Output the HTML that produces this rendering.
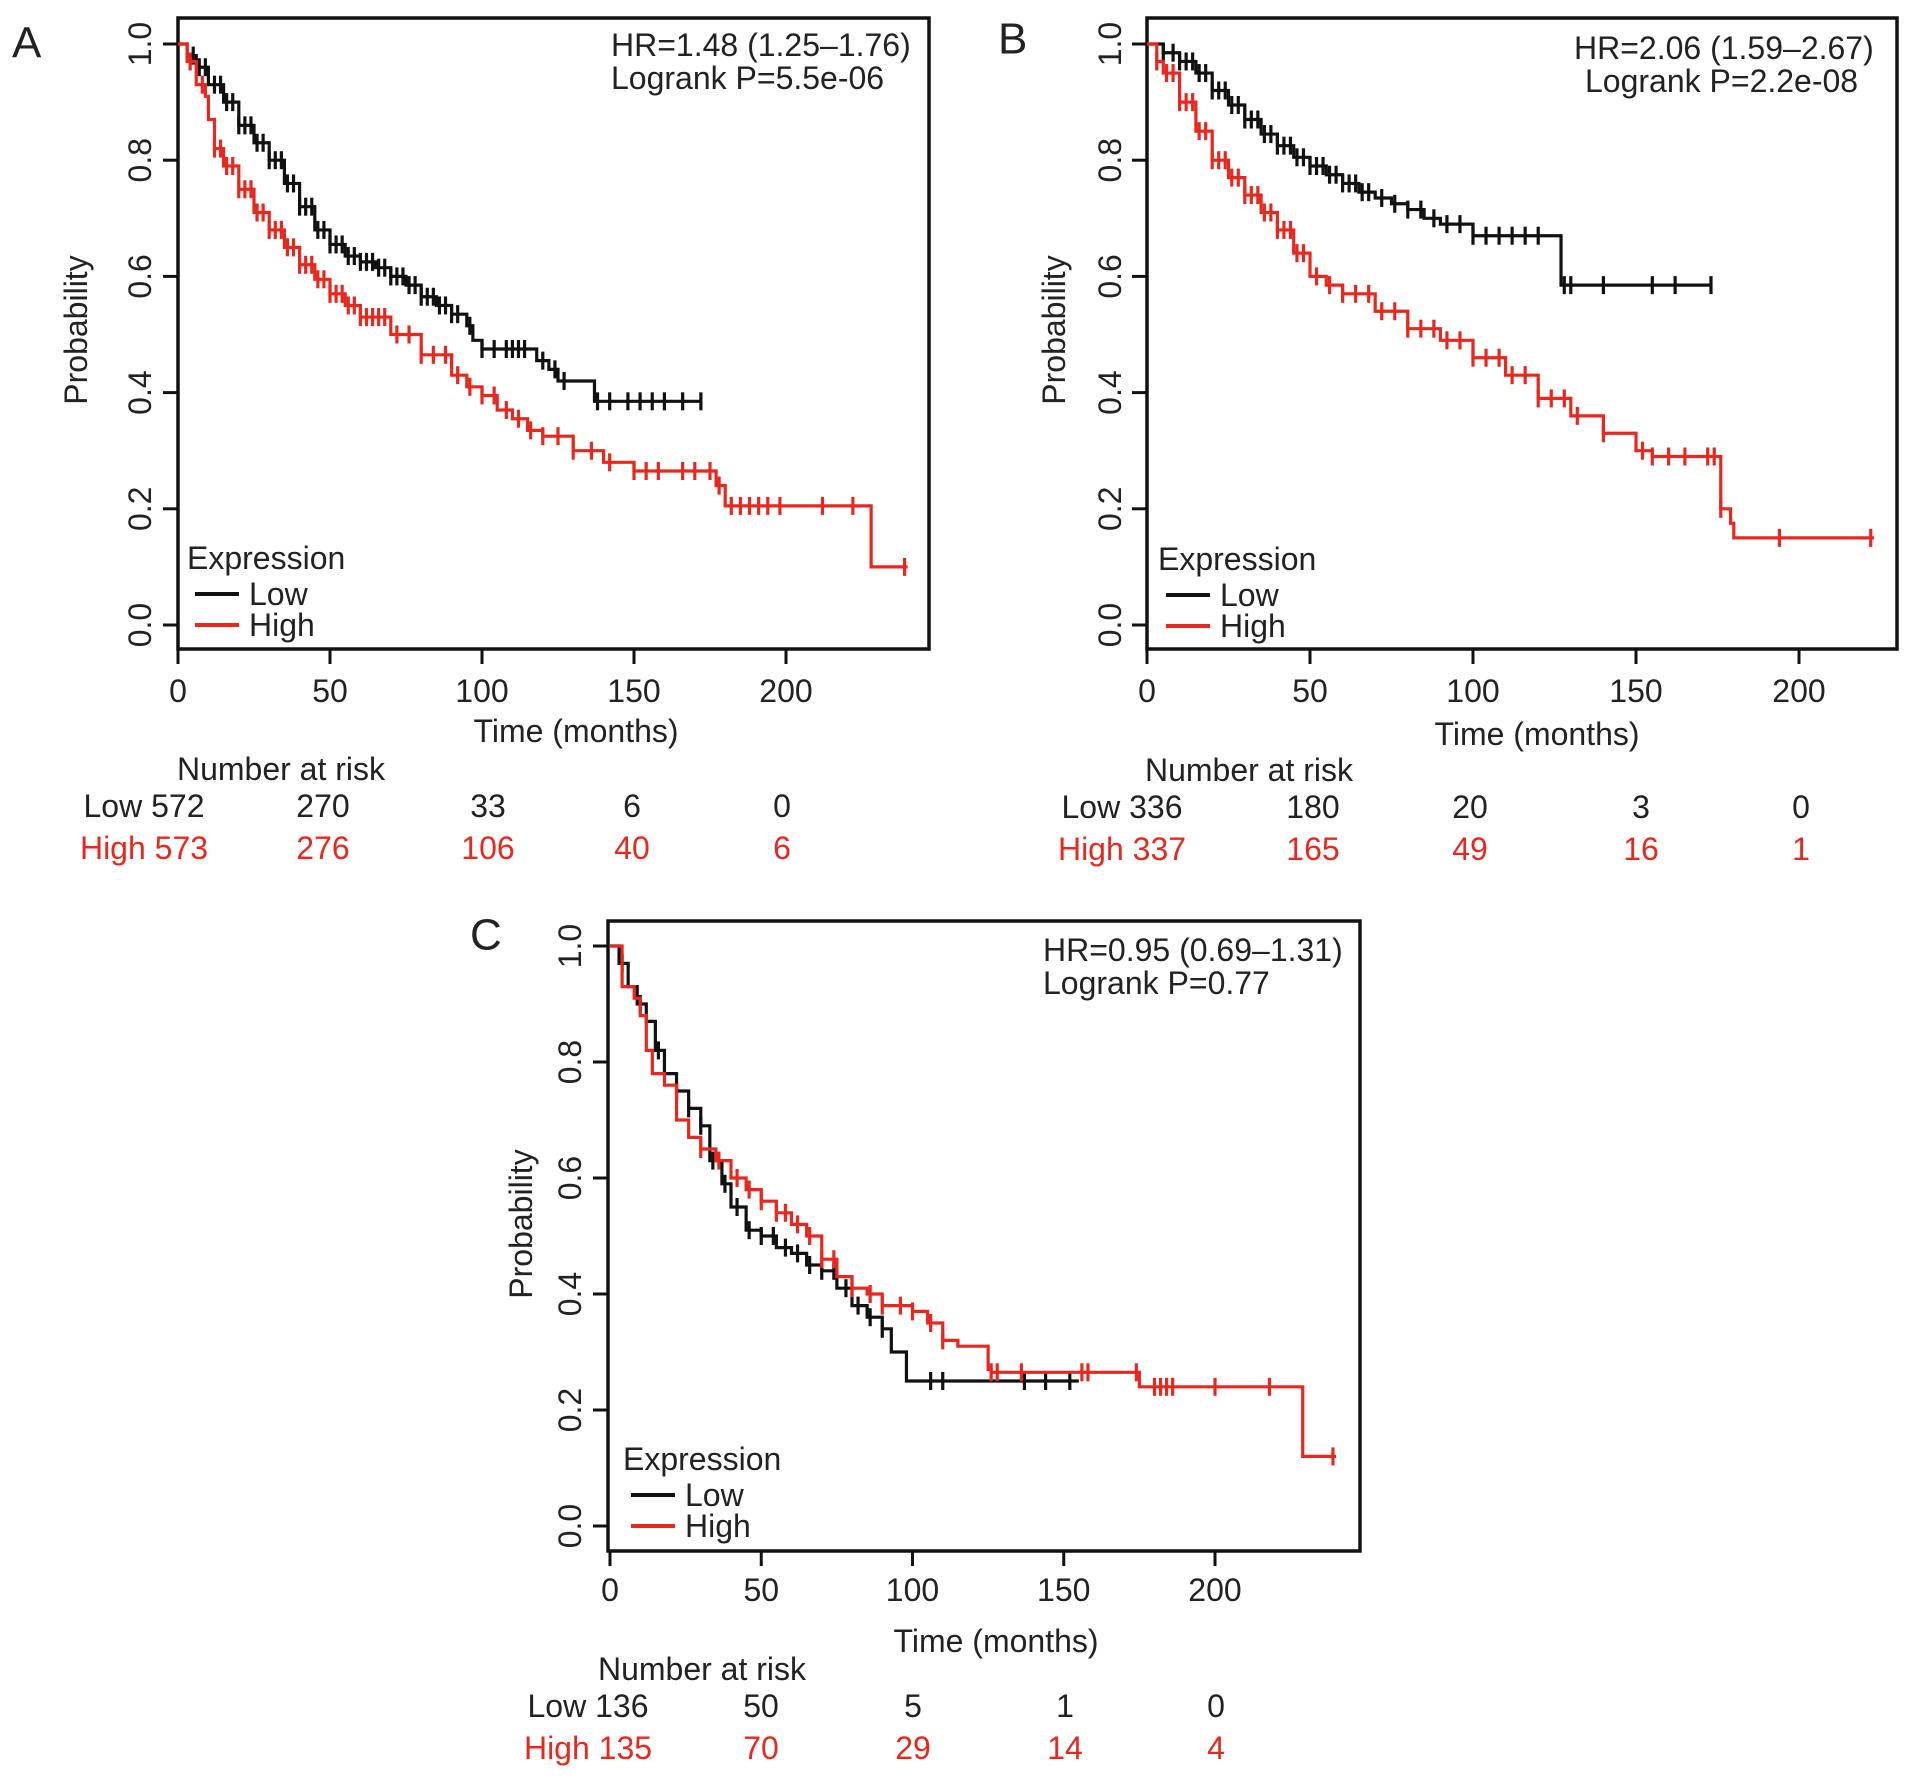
<!DOCTYPE html>
<html><head><meta charset="utf-8"><style>
html,body{margin:0;padding:0;background:#fff}
svg text{font-family:"Liberation Sans",sans-serif;font-size:32px;fill:#222}
</style></head><body>
<svg id="fig" width="1913" height="1780" viewBox="0 0 1913 1780" xmlns="http://www.w3.org/2000/svg"></svg>
<script>
// Panel A data
const aLowT=[0,3,6,10,15,20,25,30,35,40,45,50,55,60,65,70,75,80,85,90,95,97,100,115,118,122,125,128,137,172];
const aLowS=[1,0.98,0.96,0.93,0.9,0.86,0.83,0.8,0.76,0.72,0.68,0.655,0.635,0.625,0.615,0.6,0.585,0.565,0.55,0.535,0.515,0.49,0.475,0.475,0.455,0.44,0.42,0.42,0.385,0.385];
const aLowC=[5,7,9,12,14,16,18,20,22,24,26,28,30,32,34,36,38,40,42,44,46,48,50,52,54,56,58,60,62,64,66,68,70,72,74,76,78,80,82,84,86,88,90,92,96,100,104,108,110,112,114,120,124,127,138,142,148,152,156,160,166,172];
const aHighT=[0,3,6,9,10,12,15,20,25,30,35,40,45,50,55,60,70,80,90,95,100,105,110,115,120,130,140,150,175,177,180,228,240];
const aHighS=[1,0.97,0.93,0.91,0.87,0.82,0.79,0.75,0.71,0.68,0.65,0.62,0.595,0.57,0.55,0.53,0.5,0.465,0.43,0.41,0.395,0.37,0.355,0.335,0.325,0.3,0.28,0.265,0.265,0.24,0.205,0.1,0.1];
const aHighC=[4,8,12,14,16,18,20,22,24,26,28,30,32,34,36,38,40,42,44,46,48,50,52,54,56,58,60,62,64,66,68,72,76,80,84,88,92,96,100,104,108,112,116,120,125,130,136,142,150,154,158,166,170,175,178,182,185,188,191,194,198,212,222,239];
// Panel B data
const bLowT=[0,5,10,15,20,25,30,35,40,45,50,55,60,65,70,75,80,85,90,100,126,127,173];
const bLowS=[1,0.985,0.97,0.95,0.92,0.895,0.87,0.845,0.825,0.805,0.79,0.775,0.76,0.745,0.735,0.725,0.715,0.7,0.69,0.67,0.67,0.585,0.585];
const bLowC=[5,8,10,12,14,16,18,20,22,24,26,28,30,32,34,36,38,40,42,44,46,48,50,52,54,56,58,60,62,64,66,68,72,76,80,84,88,92,96,100,104,108,112,116,120,128,130,140,155,162,173];
const bHighT=[0,3,5,10,15,20,25,30,35,40,45,50,55,60,70,80,90,100,110,120,130,140,150,155,175,176,179,180,223];
const bHighS=[1,0.97,0.95,0.9,0.85,0.8,0.77,0.74,0.71,0.68,0.64,0.6,0.585,0.57,0.54,0.51,0.49,0.46,0.43,0.39,0.36,0.33,0.3,0.29,0.29,0.2,0.175,0.15,0.15];
const bHighC=[3,6,8,10,12,14,16,18,20,22,24,26,28,30,32,34,36,38,40,42,44,46,48,52,56,60,64,68,72,76,80,84,88,92,96,100,104,108,112,116,120,124,128,132,140,152,155,160,165,172,174,176,194,222];
// Panel C data
const cLowT=[0,3,6,9,12,15,18,22,26,30,33,37,40,45,50,55,60,65,70,75,80,85,90,93,98,155];
const cLowS=[1,0.97,0.93,0.9,0.87,0.82,0.78,0.75,0.72,0.69,0.63,0.59,0.55,0.51,0.5,0.48,0.47,0.45,0.44,0.41,0.38,0.36,0.34,0.3,0.25,0.25];
const cLowC=[4,10,16,22,26,30,34,38,42,46,50,54,58,62,66,70,74,78,82,86,90,106,110,137,144,152];
const cHighT=[0,4,8,10,12,14,18,22,26,30,35,40,45,50,55,60,65,70,75,80,85,90,100,105,110,115,125,126,150,175,228,229,240];
const cHighS=[1,0.93,0.91,0.88,0.82,0.78,0.76,0.7,0.67,0.65,0.63,0.6,0.58,0.56,0.54,0.52,0.5,0.46,0.43,0.41,0.4,0.38,0.37,0.35,0.32,0.31,0.27,0.265,0.265,0.24,0.24,0.12,0.12];
const cHighC=[30,36,42,46,50,55,58,62,66,70,74,80,86,90,96,100,106,110,126,128,136,156,158,174,180,182,184,186,200,218,239];
// labels
const xTicks=[0,50,100,150,200];
const yTicks=[0,0.2,0.4,0.6,0.8,1.0];
const aRiskLow=["Low 572","270","33","6","0"], aRiskHigh=["High 573","276","106","40","6"];
const bRiskLow=["Low 336","180","20","3","0"], bRiskHigh=["High 337","165","49","16","1"];
const cRiskLow=["Low 136","50","5","1","0"], cRiskHigh=["High 135","70","29","14","4"];

const NS="http://www.w3.org/2000/svg";
const fig=document.getElementById('fig');
function mk(tag,attrs,parent,txt){const e=document.createElementNS(NS,tag);for(const k in attrs)e.setAttribute(k,attrs[k]);if(txt!==undefined)e.textContent=txt;(parent||fig).appendChild(e);return e;}

function panel(P){
  const g=mk('g',{});
  
  
  const X=t=>P.x0+t*P.kx, Y=p=>P.y0-p*P.ky;
  const box=mk('rect',{x:P.bx,y:P.by,width:P.bw,height:P.bh,fill:'none',stroke:'#111','stroke-width':3.5},g);
  
  yTicks.forEach(v=>{
    const l=mk('line',{x1:P.bx-15,x2:P.bx,y1:Y(v),y2:Y(v),stroke:'#111','stroke-width':3},g);
    
    const t=mk('text',{x:P.ylx,y:Y(v),transform:`rotate(-90 ${P.ylx} ${Y(v)})`,'text-anchor':'middle','dominant-baseline':'central'},g,v.toFixed(1));
    
  });
  xTicks.forEach(v=>{
    const l=mk('line',{x1:X(v),x2:X(v),y1:P.by+P.bh,y2:P.by+P.bh+15,stroke:'#111','stroke-width':3},g);
    
    const t=mk('text',{x:X(v),y:P.xly,'text-anchor':'middle','dominant-baseline':'central'},g,String(v));
    
  });
  let t=mk('text',{x:P.plx,y:P.ply,transform:`rotate(-90 ${P.plx} ${P.ply})`,'text-anchor':'middle','dominant-baseline':'central'},g,'Probability');
  
  t=mk('text',{x:P.tx,y:P.ty,'text-anchor':'middle','dominant-baseline':'central'},g,'Time (months)');
  
  t=mk('text',{x:P.lbx,y:P.lby,'dominant-baseline':'central',style:'font-size:44px'},g,P.id.toUpperCase());
  
  t=mk('text',{x:P.hx,y:P.hy,'dominant-baseline':'central'},g,P.hr);
  
  t=mk('text',{x:P.px,y:P.hy+33,'dominant-baseline':'central'},g,P.p);
  
  P.series.forEach(s=>{
    let d=`M${X(s.t[0])},${Y(s.s[0])}`;
    for(let i=1;i<s.t.length;i++){d+=`H${X(s.t[i])}V${Y(s.s[i])}`;}
    const p=mk('path',{d:d,fill:'none',stroke:s.col,'stroke-width':3.2},g);
    
    s.c.forEach(c=>{
      let v=s.s[0];for(let i=0;i<s.t.length;i++){if(s.t[i]<=c)v=s.s[i];}
      const m=mk('line',{x1:X(c),x2:X(c),y1:Y(v)-9,y2:Y(v)+9,stroke:s.col,'stroke-width':3.2},g);
      
    });
  });
  t=mk('text',{x:P.lgx,y:P.lgy,'dominant-baseline':'central'},g,'Expression');
  
  [['Low','#111'],['High','#e8281e']].forEach((e,i)=>{
    const yy=P.lgy+36+i*31;
    const l=mk('line',{x1:P.lgx+8,x2:P.lgx+52,y1:yy,y2:yy,stroke:e[1],'stroke-width':4},g);
    
    const tt=mk('text',{x:P.lgx+62,y:yy,'dominant-baseline':'central'},g,e[0]);
    
  });
  t=mk('text',{x:P.nrx,y:P.nry,'text-anchor':'middle','dominant-baseline':'central'},g,'Number at risk');
  
  [[P.rl,'#222',P.nry+37],[P.rh,'#e8281e',P.nry+79]].forEach(r=>{
    r[0].forEach((v,i)=>{
      const tt=mk('text',{x:P.rx[i],y:r[2],'text-anchor':'middle','dominant-baseline':'central',style:'fill:'+r[1]},g,v);
      
    });
  });
}
panel({id:'a',bx:178,by:18,bw:751,bh:631,x0:178,kx:3.04,y0:625,ky:581,ylx:140,xly:691,plx:76,ply:330,tx:576,ty:731,lbx:12,lby:43,
  hr:'HR=1.48 (1.25–1.76)',p:'Logrank P=5.5e-06',hx:611,hy:45,px:611,lgx:187,lgy:558,nrx:281,nry:769,
  rl:aRiskLow,rh:aRiskHigh,rx:[144,323,488,632,782],
  series:[{name:'low',t:aLowT,s:aLowS,c:aLowC,col:'#111'},{name:'high',t:aHighT,s:aHighS,c:aHighC,col:'#e8281e'}]});
panel({id:'b',bx:1147,by:18,bw:750,bh:631,x0:1147,kx:3.26,y0:625,ky:581,ylx:1110,xly:691,plx:1054,ply:330,tx:1537,ty:734,lbx:998,lby:39,
  hr:'HR=2.06 (1.59–2.67)',p:'Logrank P=2.2e-08',hx:1574,hy:48,px:1585,lgx:1158,lgy:559,nrx:1249,nry:770,
  rl:bRiskLow,rh:bRiskHigh,rx:[1122,1313,1470,1641,1801],
  series:[{name:'low',t:bLowT,s:bLowS,c:bLowC,col:'#111'},{name:'high',t:bHighT,s:bHighS,c:bHighC,col:'#e8281e'}]});
panel({id:'c',bx:608,by:921,bw:752,bh:630,x0:610,kx:3.025,y0:1526,ky:580,ylx:570,xly:1590,plx:521,ply:1224,tx:996,ty:1641,lbx:470,lby:935,
  hr:'HR=0.95 (0.69–1.31)',p:'Logrank P=0.77',hx:1043,hy:950,px:1043,lgx:623,lgy:1459,nrx:702,nry:1669,
  rl:cRiskLow,rh:cRiskHigh,rx:[588,761,913,1065,1216],
  series:[{name:'low',t:cLowT,s:cLowS,c:cLowC,col:'#111'},{name:'high',t:cHighT,s:cHighS,c:cHighC,col:'#e8281e'}]});
</script>
</body></html>
